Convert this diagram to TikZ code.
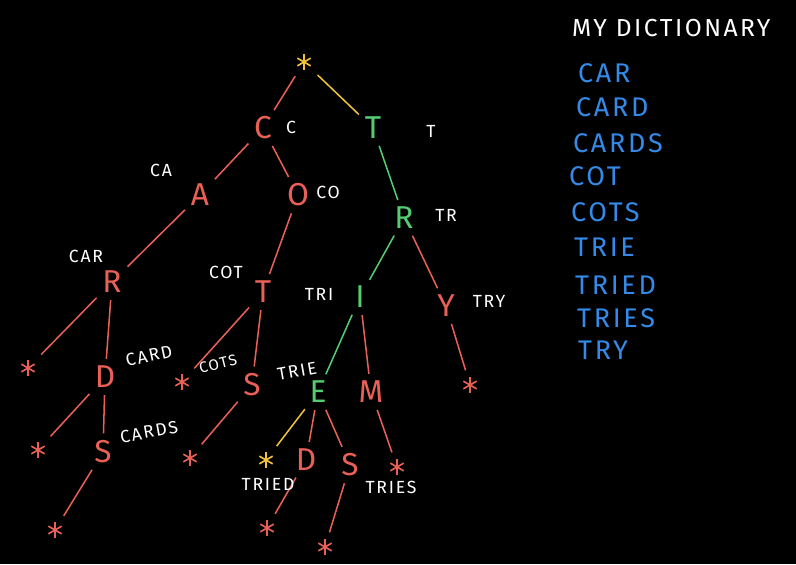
\documentclass[tikz,border=0pt]{standalone}
\usepackage{fontspec}
\setmainfont{Fira Sans}
\usetikzlibrary{arrows.meta,calc}

\definecolor{chalkred}{RGB}{232,96,86}
\definecolor{chalkgreen}{RGB}{84,204,112}
\definecolor{chalkyellow}{RGB}{242,194,58}
\definecolor{chalkblue}{RGB}{52,138,232}

\tikzset{
  letter/.style={font=\fontsize{27}{27}\selectfont, inner sep=2pt},
  starnode/.style={minimum size=0.56cm, inner sep=0pt, line width=1.4pt,
    path picture={\foreach \a in {90,30,-30}
      \draw (path picture bounding box.center) ++(\a:0.23cm) -- ++(\a+180:0.46cm);}},
  lbl/.style={text=white, inner sep=0.5pt, font=\fontsize{15}{15}\selectfont\addfontfeatures{LetterSpace=10}},
  word/.style={text=chalkblue, anchor=west, font=\fontsize{23}{23}\selectfont\addfontfeatures{LetterSpace=10}},
  edge/.style={draw=chalkred, line width=1.3pt, shorten <=4pt, shorten >=4pt}
}

\begin{document}
\begin{tikzpicture}[x=0.03cm, y=-0.03cm]
\fill[black] (0,0) rectangle (796,564);

% top of the trie
\node[starnode, color=chalkyellow] (root) at (304,62) {};
\node[letter, text=chalkred] (c) at (263,128) {C};
\node[letter, text=chalkgreen] (t) at (373,128) {T};
\node[letter, text=chalkred] (ca) at (200,195) {A};
\node[letter, text=chalkred] (co) at (298,195) {O};
\node[letter, text=chalkgreen] (tr) at (404,218) {R};
\node[letter, text=chalkred] (car) at (112,282) {R};
\node[letter, text=chalkred] (cot) at (263,292) {T};
\node[letter, text=chalkgreen] (tri) at (360,297) {I};
\node[letter, text=chalkred] (try) at (446,306) {Y};

% lower levels
\node[letter, text=chalkred] (card) at (105,377) {D};
\node[letter, text=chalkred] (cots) at (252,385) {S};
\node[letter, text=chalkgreen] (trie) at (318,392) {E};
\node[letter, text=chalkred] (trim) at (371,392) {M};
\node[letter, text=chalkred] (cards) at (103,452) {S};
\node[letter, text=chalkred] (tried) at (306,460) {D};
\node[letter, text=chalkred] (tries) at (350,465) {S};

% end markers
\node[starnode, color=chalkred] (e1) at (28,368) {};
\node[starnode, color=chalkred] (e2) at (182,382) {};
\node[starnode, color=chalkred] (e3) at (470,385) {};
\node[starnode, color=chalkred] (e4) at (38,450) {};
\node[starnode, color=chalkred] (e5) at (190,458) {};
\node[starnode, color=chalkyellow] (e6) at (266,460) {};
\node[starnode, color=chalkred] (e7) at (397,467) {};
\node[starnode, color=chalkred] (e8) at (55,530) {};
\node[starnode, color=chalkred] (e9) at (267,528) {};
\node[starnode, color=chalkred] (e10) at (325,547) {};

% connectors
\draw[edge] (root) -- (c);
\draw[edge, draw=chalkyellow] (root) -- (t);
\draw[edge] (c) -- (ca);
\draw[edge] (c) -- (co);
\draw[edge, draw=chalkgreen] (t) -- (tr);
\draw[edge] (ca) -- (car);
\draw[edge] (co) -- (cot);
\draw[edge, draw=chalkgreen] (tr) -- (tri);
\draw[edge] (tr) -- (try);
\draw[edge] (car) -- (e1);
\draw[edge] (car) -- (card);
\draw[edge] (cot) -- (e2);
\draw[edge] (cot) -- (cots);
\draw[edge, draw=chalkgreen] (tri) -- (trie);
\draw[edge] (tri) -- (trim);
\draw[edge] (try) -- (e3);
\draw[edge] (card) -- (e4);
\draw[edge] (card) -- (cards);
\draw[edge] (cots) -- (e5);
\draw[edge, draw=chalkyellow] (trie) -- (e6);
\draw[edge] (trie) -- (tried);
\draw[edge] (trie) -- (tries);
\draw[edge] (trim) -- (e7);
\draw[edge] (cards) -- (e8);
\draw[edge] (tried) -- (e9);
\draw[edge] (tries) -- (e10);

% prefixes
\node[lbl] (lc) at (291,127) {C};
\node[lbl] (lt) at (431,131) {T};
\node[lbl] (lca) at (161,170) {CA};
\node[lbl] (lco) at (328,192) {CO};
\node[lbl] (ltr) at (446,215) {TR};
\node[lbl] (lcar) at (86,256) {CAR};
\node[lbl] (lcot) at (226,272) {COT};
\node[lbl] (ltri) at (319,294) {TRI};
\node[lbl] (ltry) at (489,301) {TRY};
\node[lbl, rotate=12] (lcard) at (149,356) {CARD};
\node[lbl, rotate=14, font=\fontsize{13}{13}\selectfont\addfontfeatures{LetterSpace=10}] (lcots) at (218,364) {COTS};
\node[lbl, rotate=10] (ltrie) at (297,371) {TRIE};
\node[lbl, rotate=10] (lcards) at (149,432) {CARDS};
\node[lbl] (ltried) at (268,484) {TRIED};
\node[lbl] (ltries) at (391,487) {TRIES};

% dictionary
\node[text=white, anchor=west, font=\fontsize{21}{21}\selectfont\addfontfeatures{LetterSpace=10}] (title) at (568,28) {MY DICTIONARY};
\node[word] (w1) at (574,73) {CAR};
\node[word] (w2) at (572,107) {CARD};
\node[word] (w3) at (569,143) {CARDS};
\node[word] (w4) at (565,176) {COT};
\node[word] (w5) at (567,212) {COTS};
\node[word] (w6) at (570,247) {TRIE};
\node[word] (w7) at (571,285) {TRIED};
\node[word] (w8) at (573,318) {TRIES};
\node[word] (w9) at (574,350) {TRY};
\end{tikzpicture}
\end{document}
